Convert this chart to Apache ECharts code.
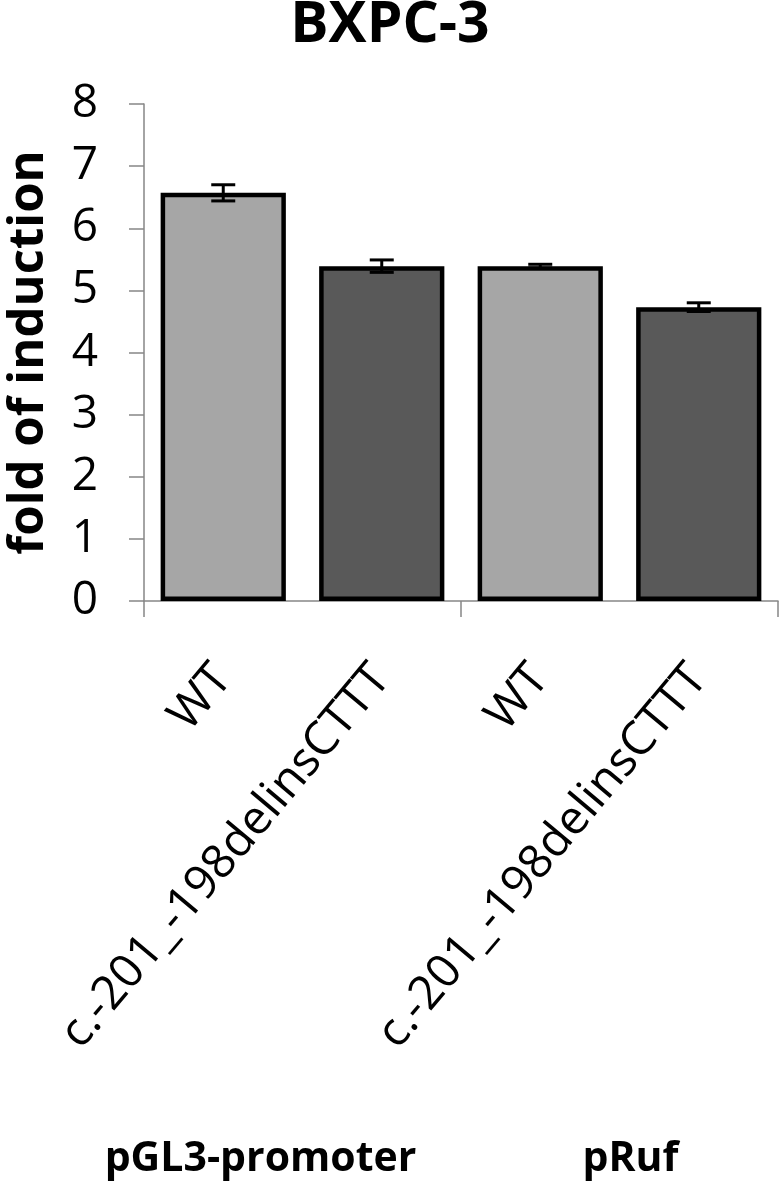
<!DOCTYPE html>
<html>
<head>
<meta charset="utf-8">
<script src="https://cdn.jsdelivr.net/npm/echarts@6/dist/echarts.min.js"></script>
<style>html,body{margin:0;padding:0;background:#fff}#c{width:780px;height:1184px}</style>
</head>
<body>
<div id="c"></div>
<script>
const categories = ['WT', 'c.-201_-198delinsCTTT', 'WT', 'c.-201_-198delinsCTTT'];
const groups = ['pGL3-promoter', 'pRuf'];
const values = [6.57, 5.39, 5.39, 4.73];
const errors = [0.13, 0.10, 0.03, 0.07];
const barColors = ['#a6a6a6', '#595959', '#a6a6a6', '#595959'];
const yTicks = [0, 1, 2, 3, 4, 5, 6, 7, 8];

const FONT = 'Open Sans';
const chart = echarts.init(document.getElementById('c'), null, {renderer: 'canvas'});
const option = {
  backgroundColor: '#fff',
  animation: false,
  title: {
    text: 'BXPC-3', left: 'center', top: -8,
    textStyle: {fontFamily: FONT, fontWeight: 'bold', fontSize: 57, color: '#000'}
  },
  grid: {left: 144, right: 2, top: 104, bottom: 583, containLabel: false, outerBoundsMode: 'none'},
  xAxis: [{
    type: 'category', data: categories, position: 'bottom',
    axisLine: {show: true, lineStyle: {color: '#868686', width: 1.5}},
    axisTick: {show: false},
    axisLabel: {rotate: 50, margin: 70, fontFamily: FONT, fontSize: 47, color: '#000', interval: 0}
  }, {
    type: 'category', data: groups, position: 'bottom',
    axisLine: {show: false},
    axisTick: {show: true, length: 16, lineStyle: {color: '#868686', width: 1.5}},
    axisLabel: {
      margin: 538, interval: 0, color: '#000',
      formatter: (v, i) => i === 0 ? '{a|' + v + '}' : '{b|' + v + '}',
      rich: {
        a: {fontFamily: FONT, fontWeight: 'bold', fontSize: 41, color: '#000', padding: [0, 84, 0, 0]},
        b: {fontFamily: FONT, fontWeight: 'bold', fontSize: 41, color: '#000', padding: [0, 0, 0, 22]}
      }
    }
  }],
  yAxis: {
    type: 'value', min: yTicks[0], max: yTicks[yTicks.length - 1], interval: 1,
    name: 'fold of induction', nameLocation: 'middle', nameRotate: 90, nameGap: 90,
    nameTextStyle: {fontFamily: FONT, fontWeight: 'bold', fontSize: 49, color: '#000'},
    axisLine: {show: true, lineStyle: {color: '#868686', width: 1.5}},
    axisTick: {show: true, inside: false, length: 15, lineStyle: {color: '#868686', width: 1.5}},
    splitLine: {show: false},
    axisLabel: {margin: 46, fontFamily: FONT, fontSize: 46, color: '#000'}
  },
  series: [{
    type: 'bar', xAxisIndex: 0, barWidth: '79%',
    data: values.map((v, i) => ({value: v, itemStyle: {color: barColors[i]}})),
    itemStyle: {borderColor: '#000', borderWidth: 4.5}
  }, {
    type: 'custom', xAxisIndex: 0, z: 10,
    data: values.map((v, i) => [i, v - errors[i], v + errors[i]]),
    renderItem: function (params, api) {
      const lo = api.coord([api.value(0), api.value(1)]);
      const hi = api.coord([api.value(0), api.value(2)]);
      const w = 12;
      const st = {stroke: '#000', lineWidth: 3};
      return {type: 'group', children: [
        {type: 'line', shape: {x1: hi[0], y1: hi[1], x2: lo[0], y2: lo[1]}, style: st},
        {type: 'line', shape: {x1: hi[0] - w, y1: hi[1], x2: hi[0] + w, y2: hi[1]}, style: st},
        {type: 'line', shape: {x1: lo[0] - w, y1: lo[1], x2: lo[0] + w, y2: lo[1]}, style: st}
      ]};
    }
  }]
};
chart.setOption(option);
</script>
</body>
</html>
